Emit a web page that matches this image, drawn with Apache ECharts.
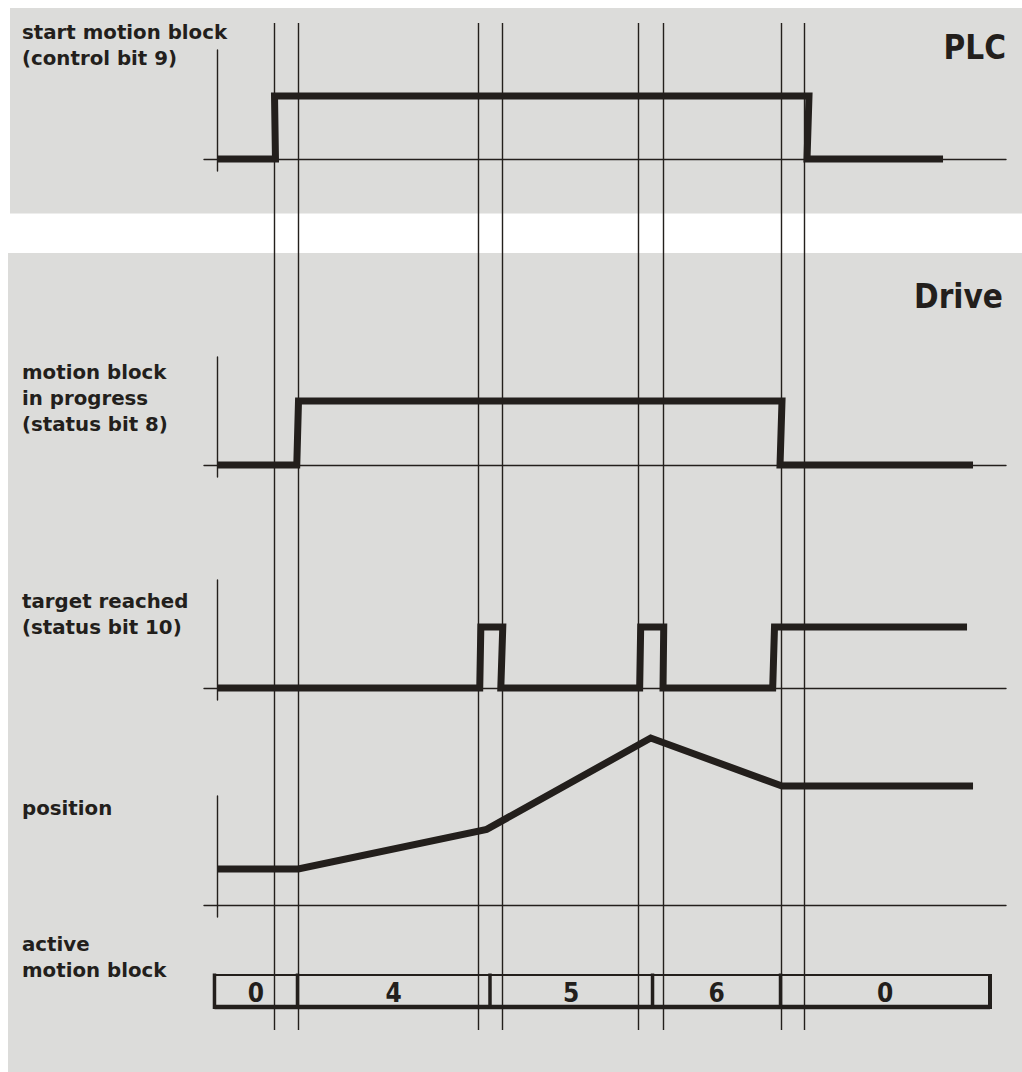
<!DOCTYPE html>
<html>
<head>
<meta charset="utf-8">
<script src="https://cdn.jsdelivr.net/npm/echarts@6/dist/echarts.min.js"></script>
<style>
html,body{margin:0;padding:0;background:#ffffff;}
#chart{width:1022px;height:1072px;}
</style>
</head>
<body>
<div id="chart"></div>
<script>
// ---- data (time in arbitrary units, levels 0/1) ----
const timeGuides = [7.22, 10.30, 33.17, 36.12, 53.40, 56.53, 71.48, 74.40];

const plcTime  = [0, 7.41, 7.29, 75.03, 74.78, 92.02];
const plcLevel = [0, 0, 1, 1, 0, 0];

const progTime  = [0, 10.11, 10.33, 71.61, 71.36, 95.82];
const progLevel = [0, 0, 1, 1, 0, 0];

const targetTime  = [0, 33.30, 33.44, 36.22, 35.97, 53.57, 53.70, 56.62, 56.53, 70.43, 70.66, 95.06];
const targetLevel = [0, 0, 1, 1, 0, 0, 1, 1, 0, 0, 1, 1];

const posTime  = [0, 10.30, 34.18, 54.97, 71.61, 95.82];
const posValue = [2.12, 2.12, 4.45, 9.82, 7.0, 7.0];

const blockStart  = [-0.32, 10.20, 34.60, 55.20, 71.42];
const blockEnd    = [10.20, 34.60, 55.20, 71.42, 97.97];
const blockLabels = ['0', '4', '5', '6', '0'];

const rowLabels = [
  'start motion block\n(control bit 9)',
  'motion block\nin progress\n(status bit 8)',
  'target reached\n(status bit 10)',
  'position',
  'active\nmotion block'
];
const panelTitles = ['PLC', 'Drive'];

// ---- styling ----
const INK = '#231f1c';
const PANEL = '#dcdcda';
const X_MIN = -1.648, X_MAX = 100;
const LABEL_FONT = 'bold 19.8px "DejaVu Sans", Verdana, sans-serif';
const TITLE_FONT = 'bold 33px "DejaVu Sans Condensed", "DejaVu Sans", sans-serif';
const DIGIT_FONT = 'bold 26px "DejaVu Sans Condensed", "DejaVu Sans", sans-serif';

const grids = [
  {left: 204, width: 802, top: 50,  height: 121}, // PLC
  {left: 204, width: 802, top: 357, height: 120}, // in progress
  {left: 204, width: 802, top: 580, height: 120}, // target reached
  {left: 204, width: 802, top: 796, height: 121}, // position
  {left: 204, width: 802, top: 23,  height: 1007}, // guide lines
  {left: 204, width: 802, top: 975, height: 32}   // active block
];
const yRanges = [
  [-0.190, 1.730],
  [-0.1875, 1.6875],
  [-0.1967, 1.7705],
  [-0.7059, 6.4118],
  [0, 1],
  [0, 1]
];

function xAxisFor(i, show) {
  return {
    type: 'value', gridIndex: i, min: X_MIN, max: X_MAX, show: show,
    axisLine: {show: true, onZero: true, lineStyle: {color: INK, width: 1.4}},
    axisTick: {show: false}, axisLabel: {show: false}, splitLine: {show: false}
  };
}
function yAxisFor(i, show) {
  return {
    type: 'value', gridIndex: i, min: yRanges[i][0], max: yRanges[i][1], show: show,
    axisLine: {show: true, onZero: true, lineStyle: {color: INK, width: 1.4}},
    axisTick: {show: false}, axisLabel: {show: false}, splitLine: {show: false}
  };
}

function signal(i, times, vals) {
  return {
    type: 'line', xAxisIndex: i, yAxisIndex: i,
    data: times.map((t, k) => [t, vals[k]]),
    showSymbol: false, symbol: 'none', clip: false, z: 5,
    lineStyle: {color: INK, width: 7, join: 'miter', cap: 'butt'},
    silent: true
  };
}

const labelTops = [19.5, 359.5, 588, 795, 931];

const graphics = [
  {type: 'rect', z: -100, shape: {x: 10, y: 8, width: 1012, height: 205.5}, style: {fill: PANEL}},
  {type: 'rect', z: -100, shape: {x: 8, y: 253, width: 1014, height: 819}, style: {fill: PANEL}},
  {type: 'text', x: 1006, y: 47.6, style: {text: panelTitles[0], font: TITLE_FONT, fill: INK, align: 'right', verticalAlign: 'middle'}},
  {type: 'text', x: 1003, y: 296.6, style: {text: panelTitles[1], font: TITLE_FONT, fill: INK, align: 'right', verticalAlign: 'middle'}}
];
rowLabels.forEach((txt, i) => {
  graphics.push({type: 'text', x: 22, y: labelTops[i], style: {text: txt, font: LABEL_FONT, lineHeight: 26, fill: INK, align: 'left', verticalAlign: 'top'}});
});

const option = {
  backgroundColor: '#ffffff',
  animation: false,
  graphic: graphics,
  grid: grids,
  xAxis: [xAxisFor(0, true), xAxisFor(1, true), xAxisFor(2, true), xAxisFor(3, true), xAxisFor(4, false), xAxisFor(5, false)],
  yAxis: [yAxisFor(0, true), yAxisFor(1, true), yAxisFor(2, true), yAxisFor(3, true), yAxisFor(4, false), yAxisFor(5, false)],
  series: [
    {
      type: 'line', xAxisIndex: 4, yAxisIndex: 4, data: [], z: 1, silent: true,
      markLine: {
        silent: true, symbol: ['none', 'none'], label: {show: false},
        lineStyle: {color: INK, width: 1.4, type: 'solid'},
        data: timeGuides.map(t => ({xAxis: t}))
      }
    },
    signal(0, plcTime, plcLevel),
    signal(1, progTime, progLevel),
    signal(2, targetTime, targetLevel),
    signal(3, posTime, posValue),
    {
      type: 'custom', xAxisIndex: 5, yAxisIndex: 5, z: 6, silent: true, clip: false,
      data: blockStart.map((s, k) => [s, blockEnd[k]]),
      renderItem: function (params, api) {
        const idx = params.dataIndex;
        const p0 = api.coord([api.value(0), 1]);
        const p1 = api.coord([api.value(1), 0]);
        const children = [
          {type: 'line', shape: {x1: p0[0], y1: p0[1], x2: p1[0], y2: p0[1]}, style: {stroke: INK, lineWidth: 2.2}},
          {type: 'line', shape: {x1: p0[0], y1: p1[1], x2: p1[0], y2: p1[1]}, style: {stroke: INK, lineWidth: 4.5}},
          {type: 'line', shape: {x1: p0[0], y1: p0[1] - 1.5, x2: p0[0], y2: p1[1] + 2}, style: {stroke: INK, lineWidth: 3.5}},
          {type: 'text', x: (p0[0] + p1[0]) / 2, y: (p0[1] + p1[1]) / 2 + 1.5,
           style: {text: blockLabels[idx], font: DIGIT_FONT, fill: INK, align: 'center', verticalAlign: 'middle'}}
        ];
        if (idx === blockStart.length - 1) {
          children.push({type: 'line', shape: {x1: p1[0], y1: p0[1] - 1, x2: p1[0], y2: p1[1] + 2}, style: {stroke: INK, lineWidth: 4}});
        }
        return {type: 'group', children: children};
      }
    }
  ]
};

const chart = echarts.init(document.getElementById('chart'), null, {renderer: 'svg'});
chart.setOption(option);
</script>
</body>
</html>
